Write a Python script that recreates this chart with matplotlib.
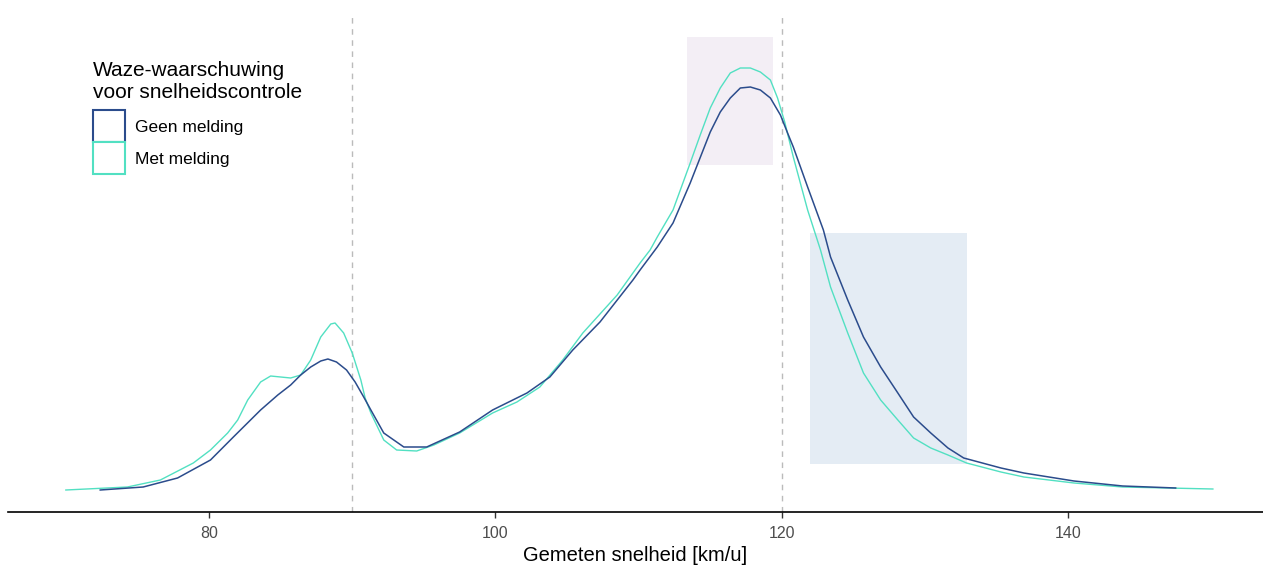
import matplotlib
matplotlib.use("Agg")
from matplotlib import pyplot as plt
from matplotlib.patches import Patch, Rectangle

plt.rcParams['font.family'] = ['Liberation Sans', 'DejaVu Sans']

# Density curves (speed in km/u, density)
geen_speed = [72.4, 75.4, 77.8, 80.1, 81.7, 83.6, 84.8, 85.7, 86.4, 87.1, 87.8, 88.3,
              88.9, 89.6, 90.2, 90.8, 91.3, 92.2, 93.6, 95.2, 97.5, 99.8, 102.2, 103.8,
              105.4, 107.3, 109.6, 110.1, 111.3, 112.4, 113.6, 115.0, 115.7, 116.4,
              117.1, 117.8, 118.5, 119.2, 119.9, 120.4, 120.8, 121.8, 122.9, 123.4,
              124.6, 125.7, 126.9, 128.1, 129.2, 130.4, 131.6, 132.7, 135.3, 136.9,
              140.4, 143.8, 147.5]
geen_dens = [0.0, 0.0003, 0.0012, 0.0030, 0.0053, 0.0080, 0.0095, 0.0105, 0.0115,
             0.0123, 0.0129, 0.0131, 0.0128, 0.0120, 0.0108, 0.0093, 0.0080, 0.0057,
             0.0043, 0.0043, 0.0058, 0.0080, 0.0097, 0.0113, 0.0140, 0.0168, 0.0210,
             0.0220, 0.0243, 0.0267, 0.0307, 0.0358, 0.0378, 0.0392, 0.0402, 0.0403,
             0.0400, 0.0392, 0.0375, 0.0357, 0.0343, 0.0303, 0.0260, 0.0233, 0.0190,
             0.0153, 0.0123, 0.0097, 0.0073, 0.0057, 0.0042, 0.0032, 0.0022, 0.0017,
             0.0009, 0.0004, 0.0002]

met_speed = [70.0, 74.3, 76.6, 78.9, 80.1, 81.3, 82.0, 82.7, 83.6, 84.3, 85.0, 85.7,
             86.4, 87.1, 87.8, 88.5, 88.8, 89.4, 90.0, 90.6, 90.9, 91.3, 92.2, 93.1,
             94.5, 95.7, 97.5, 99.8, 101.5, 103.1, 104.7, 106.1, 108.5, 110.1, 110.8,
             111.3, 112.4, 113.6, 114.3, 115.0, 115.7, 116.4, 117.1, 117.8, 118.5,
             119.2, 119.7, 120.2, 120.8, 121.8, 122.7, 123.4, 124.6, 125.7, 126.9,
             128.1, 129.2, 130.4, 131.6, 132.9, 135.3, 136.9, 140.4, 143.8, 150.1]
met_dens = [0.0, 0.0003, 0.0010, 0.0027, 0.0040, 0.0057, 0.0070, 0.0090, 0.0108,
            0.0114, 0.0113, 0.0112, 0.0115, 0.0130, 0.0153, 0.0166, 0.0167, 0.0157,
            0.0137, 0.0110, 0.0092, 0.0077, 0.0050, 0.0040, 0.0039, 0.0045, 0.0057,
            0.0077, 0.0088, 0.0103, 0.0130, 0.0157, 0.0195, 0.0227, 0.0240, 0.0253,
            0.0280, 0.0327, 0.0355, 0.0382, 0.0402, 0.0417, 0.0422, 0.0422, 0.0418,
            0.0410, 0.0392, 0.0368, 0.0333, 0.0280, 0.0240, 0.0203, 0.0157, 0.0117,
            0.0090, 0.0070, 0.0052, 0.0042, 0.0035, 0.0027, 0.0018, 0.0013, 0.0007,
            0.0003, 0.0001]

# highlighted zones (x0, x1, y0, y1)
zone_peak = (113.4, 119.4, 0.0325, 0.0453)
zone_tail = (122.0, 132.9, 0.0026, 0.0257)
limits = [90, 120]
xticks = [80, 100, 120, 140]

c_geen = '#2B4C8C'
c_met = '#52E0C2'

W, H = 1263, 566
fig = plt.figure(figsize=(W / 100, H / 100), dpi=100)
ax = fig.add_axes([8 / W, (H - 512) / H, 1 - 8 / W, (512 - 14) / H])

for (x0, x1, y0, y1), col in [(zone_peak, '#F3EEF5'), (zone_tail, '#E4ECF4')]:
    ax.add_patch(Rectangle((x0, y0), x1 - x0, y1 - y0, facecolor=col,
                           edgecolor='none', zorder=0))

for v in limits:
    ax.axvline(v, color='#BBBBBB', lw=1.0, ls=(0, (4, 4)), zorder=1)

ax.plot(geen_speed, geen_dens, color=c_geen, lw=1.1, zorder=3)
ax.plot(met_speed, met_dens, color=c_met, lw=1.0, zorder=2)

ax.set_xlim(65.96, 153.6)
ax.set_ylim(-0.0022, 0.0476)
ax.set_yticks([])
ax.set_xticks(xticks)
ax.tick_params(axis='x', colors='#333333', labelcolor='#4D4D4D', labelsize=11.5,
               length=4, width=1, pad=6)
for s in ['left', 'right', 'top']:
    ax.spines[s].set_visible(False)
ax.spines['bottom'].set_linewidth(1.2)
ax.set_xlabel('Gemeten snelheid [km/u]', fontsize=14.5, labelpad=4)

handles = [Patch(facecolor='white', edgecolor=c_geen, lw=1.5, label='Geen melding'),
           Patch(facecolor='white', edgecolor=c_met, lw=1.5, label='Met melding')]
leg = ax.legend(handles=handles, title='Waze-waarschuwing\nvoor snelheidscontrole',
                loc='upper left', bbox_to_anchor=(86 / W, 1 - 54 / H),
                bbox_transform=fig.transFigure, frameon=False, fontsize=12.5,
                title_fontsize=15, alignment='left', handlelength=1.84,
                handleheight=2.46, labelspacing=0.0, handletextpad=0.6,
                borderaxespad=0)
leg._legend_box.sep = 6  # gap between title and keys

fig.savefig('out.png', dpi=100)
